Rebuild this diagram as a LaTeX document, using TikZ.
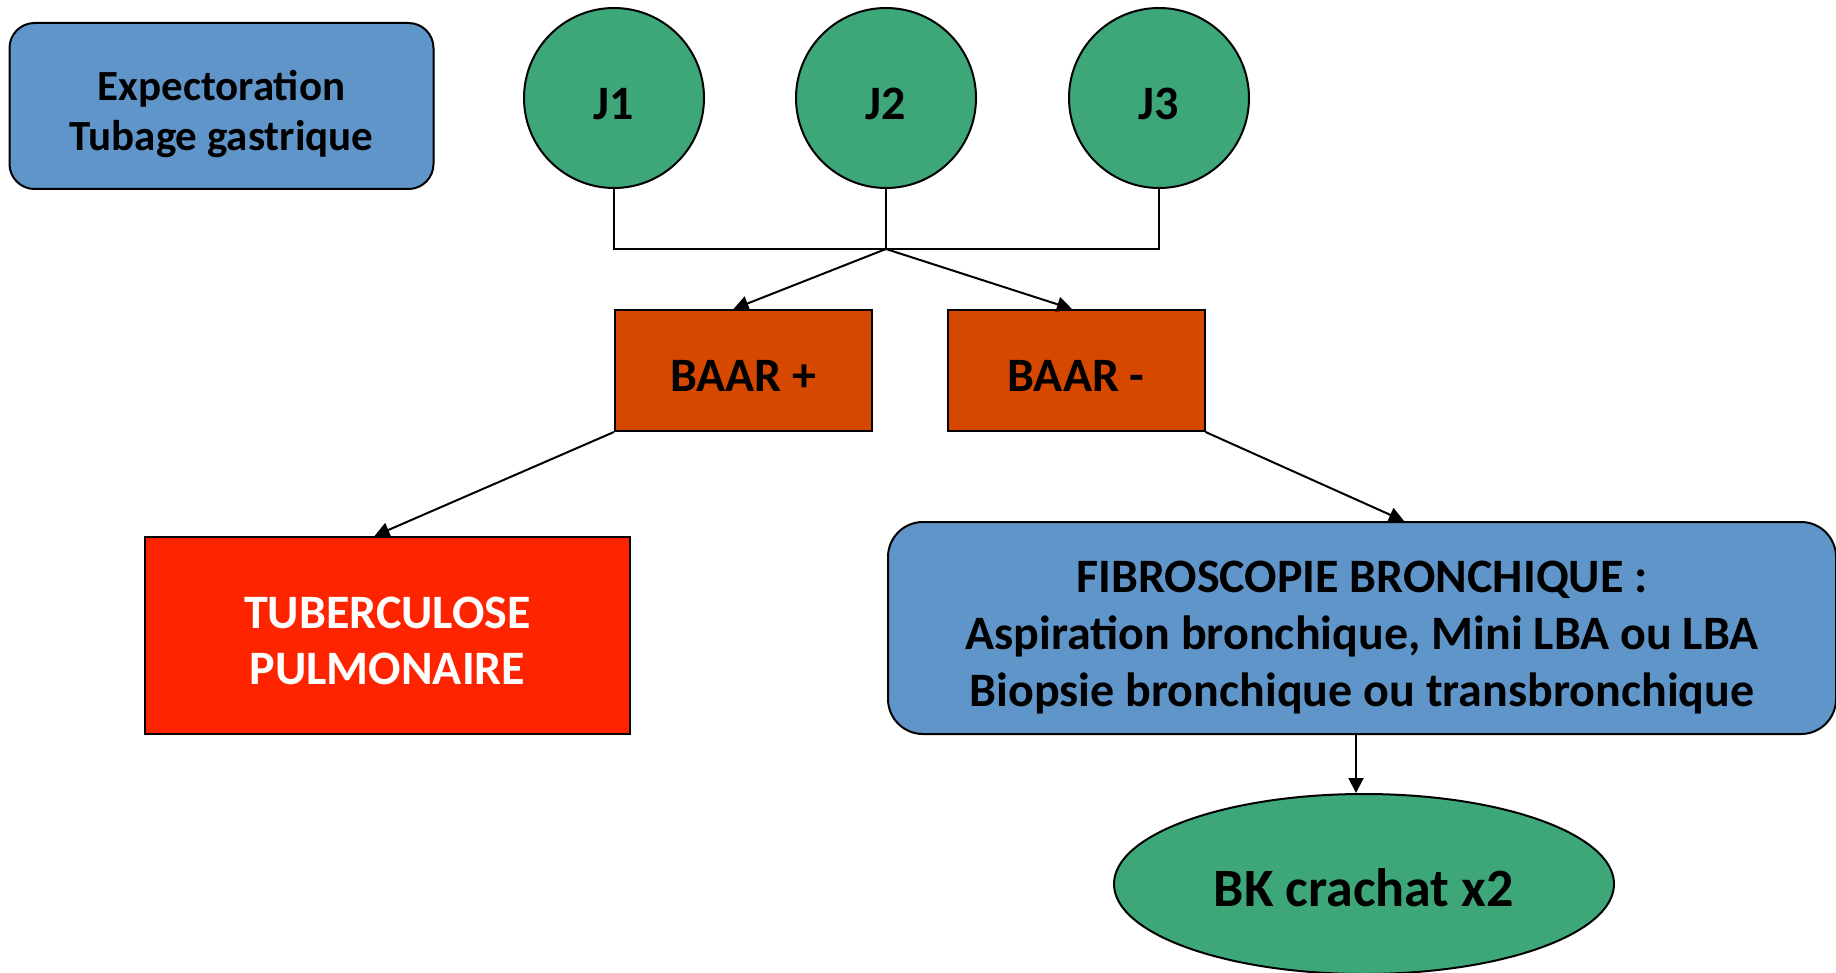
\documentclass[tikz,border=0pt]{standalone}
\usepackage{fontspec}
\setmainfont{Carlito}
\usetikzlibrary{shapes.geometric,arrows.meta}
\definecolor{boxblue}{RGB}{96,149,201}
\definecolor{daygreen}{RGB}{62,167,122}
\definecolor{baarorange}{RGB}{214,72,0}
\definecolor{tbred}{RGB}{255,36,0}
\newcommand{\lowtext}[1]{\raisebox{-10pt}[\height][\depth]{\begin{tabular}{@{}c@{}}#1\end{tabular}}}
\begin{document}
\begin{tikzpicture}[x=1pt, y=-1pt, line width=2pt, font=\bfseries,
  bluebox/.style={draw, fill=boxblue, rounded corners=25pt, align=center, inner sep=0pt},
  daycircle/.style={draw, circle, fill=daygreen, minimum size=180pt, inner sep=0pt, font=\fontsize{48}{56}\selectfont\bfseries},
  baarbox/.style={draw, fill=baarorange, minimum width=257pt, minimum height=121pt, inner sep=0pt, font=\fontsize{48}{56}\selectfont\bfseries},
  arr/.style={-{Triangle[width=15pt,length=15pt]}}]
  \useasboundingbox (0,0) rectangle (1836,973);
  \node[bluebox, minimum width=424pt, minimum height=166pt, font=\fontsize{43}{50}\selectfont\bfseries] (exp) at (221.5,106) {\lowtext{Expectoration\\Tubage gastrique}};
  \node[daycircle] (j1) at (614,98) {\lowtext{J1}};
  \node[daycircle] (j2) at (886,98) {\lowtext{J2}};
  \node[daycircle] (j3) at (1159,98) {\lowtext{J3}};
  \coordinate (bus) at (886,249);
  \node[baarbox] (baarp) at (743.5,370.5) {\lowtext{BAAR +}};
  \node[baarbox] (baarm) at (1076,370.5) {\lowtext{BAAR -}};
  \node[draw, fill=tbred, text=white, minimum width=485pt, minimum height=197pt, inner sep=0pt, font=\fontsize{48}{56}\selectfont\bfseries] (tub) at (387.5,635.5) {\lowtext{TUBERCULOSE\\PULMONAIRE}};
  \node[bluebox, rounded corners=35pt, minimum width=948pt, minimum height=212pt, font=\fontsize{48}{57}\selectfont\bfseries] (fib) at (1362,628) {\lowtext{FIBROSCOPIE BRONCHIQUE :\\Aspiration bronchique, Mini LBA ou LBA\\Biopsie bronchique ou transbronchique}};
  \node[draw, ellipse, fill=daygreen, minimum width=500pt, minimum height=180pt, inner sep=0pt, font=\fontsize{54}{60}\selectfont\bfseries] (bk) at (1364,884) {\lowtext{BK crachat x2}};
  \draw (j1.south) |- (bus);
  \draw (j3.south) |- (bus);
  \draw (j2.south) -- (bus);
  \draw[arr] (bus) -- ([xshift=-10pt]baarp.north);
  \draw[arr] (bus) -- ([xshift=-4pt]baarm.north);
  \draw[arr] (baarp.south west) -- ([xshift=-13pt]tub.north);
  \draw[arr] (baarm.south east) -- ([xshift=42pt]fib.north);
  \draw[arr] ([xshift=-6pt]fib.south) -- ([xshift=-6pt]fib.south |- bk.north);
\end{tikzpicture}
\end{document}
